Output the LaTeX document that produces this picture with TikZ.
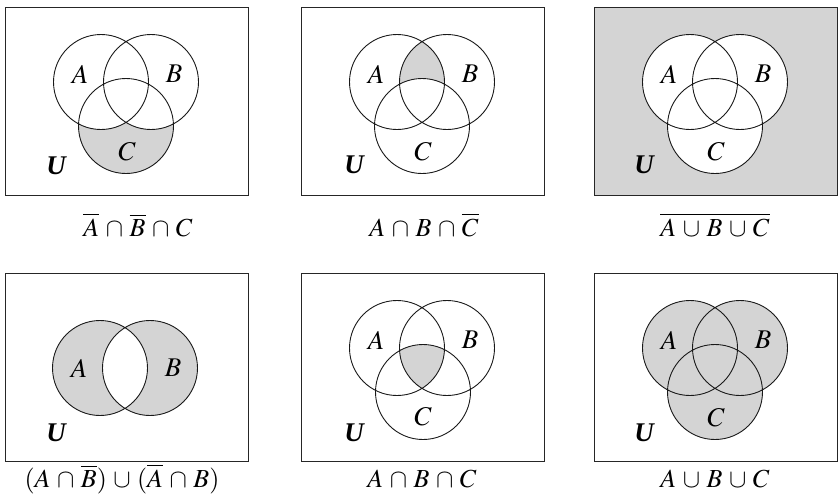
\documentclass[tikz,border=0pt]{standalone}
\usepackage{mathptmx}
\usepackage{fontspec}
\setmainfont{Liberation Serif}
\definecolor{setgray}{HTML}{D4D4D4}
\medmuskip=4.5mu plus 2mu minus 2mu

\begin{document}
\begin{tikzpicture}[x=1pt, y=-1pt,
    frame/.style={draw=black!85, line width=0.9pt},
    ring/.style={draw=black!90, line width=0.9pt},
    shaded/.style={fill=setgray},
    lbl/.style={font=\fontsize{27}{30}\selectfont},
    unilbl/.style={font=\fontsize{27}{30}\selectfont\bfseries\itshape},
    caption/.style={anchor=base, font=\fontsize{26}{30}\selectfont}]
  \useasboundingbox (0,0) rectangle (839,499);

  % top left: not A, not B, C
  \begin{scope}[shift={(5,7)}]
    \coordinate (p1a) at (96,75);
    \coordinate (p1b) at (146,75);
    \coordinate (p1c) at (121,119);
    \draw[frame] (0,0) rectangle (243,188);
    \fill[shaded] (p1c) circle[radius=47.5];
    \fill[white] (p1a) circle[radius=47.5];
    \fill[white] (p1b) circle[radius=47.5];
    \draw[ring] (p1a) circle[radius=47.5] (p1b) circle[radius=47.5] (p1c) circle[radius=47.5];
    \node (p1A) [lbl] at (75,67) {$A$};
    \node (p1B) [lbl] at (169,67) {$B$};
    \node (p1C) [lbl] at (122,145) {$C$};
    \node (p1U) [unilbl] at (51,159) {U};
  \end{scope}
  \node (cap1) [caption] at (138,236) {$\overline{A}\cap\overline{B}\cap C$};

  % top middle: A, B, not C
  \begin{scope}[shift={(301,7)}]
    \coordinate (p2a) at (96,75);
    \coordinate (p2b) at (146,75);
    \coordinate (p2c) at (121,119);
    \draw[frame] (0,0) rectangle (243,188);
    \begin{scope}
      \clip (p2a) circle[radius=47.5];
      \fill[shaded] (p2b) circle[radius=47.5];
      \fill[white] (p2c) circle[radius=47.5];
    \end{scope}
    \draw[ring] (p2a) circle[radius=47.5] (p2b) circle[radius=47.5] (p2c) circle[radius=47.5];
    \node (p2A) [lbl] at (75,67) {$A$};
    \node (p2B) [lbl] at (169,67) {$B$};
    \node (p2C) [lbl] at (122,145) {$C$};
    \node (p2U) [unilbl] at (53,158) {U};
  \end{scope}
  \node (cap2) [caption] at (424,236) {$A\cap B\cap\overline{C}$};

  % top right: complement of the union
  \begin{scope}[shift={(594,7)}]
    \coordinate (p3a) at (96,75);
    \coordinate (p3b) at (146,75);
    \coordinate (p3c) at (121,119);
    \filldraw[frame, shaded] (0,0) rectangle (243,188);
    \fill[white] (p3a) circle[radius=47.5] (p3b) circle[radius=47.5] (p3c) circle[radius=47.5];
    \draw[ring] (p3a) circle[radius=47.5] (p3b) circle[radius=47.5] (p3c) circle[radius=47.5];
    \node (p3A) [lbl] at (75,67) {$A$};
    \node (p3B) [lbl] at (169,67) {$B$};
    \node (p3C) [lbl] at (122,145) {$C$};
    \node (p3U) [unilbl] at (50,158) {U};
  \end{scope}
  \node (cap3) [caption] at (715,236) {$\overline{A\cup B\cup C}$};

  % bottom left: symmetric difference
  \begin{scope}[shift={(5,273)}]
    \coordinate (p4a) at (95,95);
    \coordinate (p4b) at (145,95);
    \draw[frame] (0,0) rectangle (243,188);
    \fill[shaded] (p4a) circle[radius=47.5] (p4b) circle[radius=47.5];
    \begin{scope}
      \clip (p4a) circle[radius=47.5];
      \fill[white] (p4b) circle[radius=47.5];
    \end{scope}
    \draw[ring] (p4a) circle[radius=47.5] (p4b) circle[radius=47.5];
    \node (p4A) [lbl] at (74,95) {$A$};
    \node (p4B) [lbl] at (168,95) {$B$};
    \node (p4U) [unilbl] at (51,160) {U};
  \end{scope}
  \node (cap4) [caption] at (122,487) {$(A\cap\overline{B})\cup(\overline{A}\cap B)$};

  % bottom middle: A, B and C
  \begin{scope}[shift={(301,273)}]
    \coordinate (p5a) at (96,75);
    \coordinate (p5b) at (146,75);
    \coordinate (p5c) at (122,119);
    \draw[frame] (0,0) rectangle (243,188);
    \begin{scope}
      \clip (p5a) circle[radius=47.5];
      \clip (p5b) circle[radius=47.5];
      \fill[shaded] (p5c) circle[radius=47.5];
    \end{scope}
    \draw[ring] (p5a) circle[radius=47.5] (p5b) circle[radius=47.5] (p5c) circle[radius=47.5];
    \node (p5A) [lbl] at (75,67) {$A$};
    \node (p5B) [lbl] at (169,67) {$B$};
    \node (p5C) [lbl] at (122,144) {$C$};
    \node (p5U) [unilbl] at (53,160) {U};
  \end{scope}
  \node (cap5) [caption] at (422,487) {$A\cap B\cap C$};

  % bottom right: the union
  \begin{scope}[shift={(594,273)}]
    \coordinate (p6a) at (96,75);
    \coordinate (p6b) at (146,75);
    \coordinate (p6c) at (121,119);
    \draw[frame] (0,0) rectangle (243,188);
    \fill[shaded] (p6a) circle[radius=47.5] (p6b) circle[radius=47.5] (p6c) circle[radius=47.5];
    \draw[ring] (p6a) circle[radius=47.5] (p6b) circle[radius=47.5] (p6c) circle[radius=47.5];
    \node (p6A) [lbl] at (75,67) {$A$};
    \node (p6B) [lbl] at (169,67) {$B$};
    \node (p6C) [lbl] at (122,145) {$C$};
    \node (p6U) [unilbl] at (50,160) {U};
  \end{scope}
  \node (cap6) [caption] at (715,487) {$A\cup B\cup C$};
\end{tikzpicture}
\end{document}
